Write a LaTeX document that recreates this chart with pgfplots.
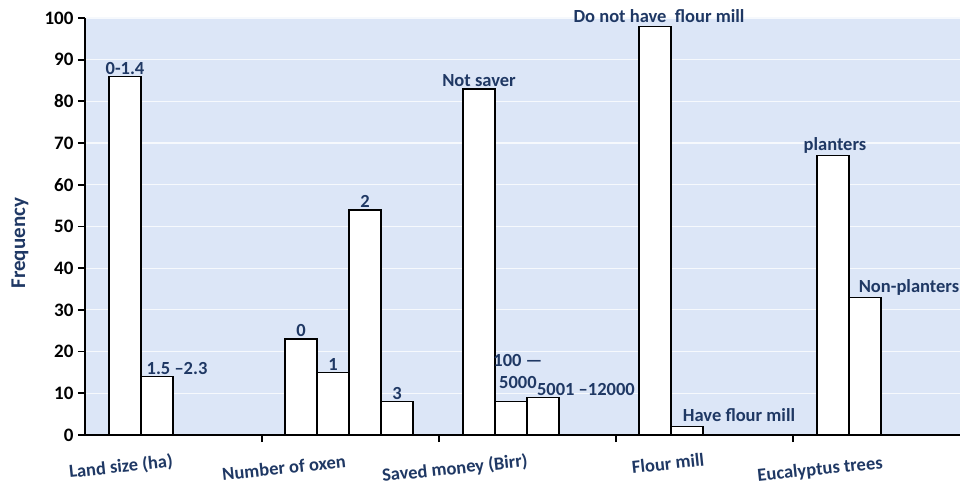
\documentclass[border=0pt]{standalone}
\usepackage{pgfplots}
\pgfplotsset{compat=1.18}
\usepackage{fontspec}
\setmainfont{Carlito}
\definecolor{navy}{HTML}{1F3864}
\definecolor{bgblue}{HTML}{DCE6F7}
\newcommand{\lab}{\fontsize{18.5}{22}\selectfont\bfseries}

\begin{document}
\begin{tikzpicture}
\begin{axis}[
  scale only axis, width=875pt, height=417pt,
  xmin=0, xmax=4.9435, ymin=0, ymax=100,
  axis lines=left,
  axis line style={black, line width=2pt, -},
  axis background/.style={fill=bgblue},
  ymajorgrids, grid style={white!75!bgblue, line width=1.2pt},
  xtick={1,2,3,4}, xticklabels={},
  ytick={0,10,...,100},
  tick align=outside, major tick length=7pt,
  tick style={black, line width=1.8pt},
  /pgf/number format/assume math mode=true,
  yticklabel style={font=\fontsize{19}{22}\selectfont\bfseries, xshift=-1pt},
  clip=false,
]
\addplot[ybar, bar width=0.1808, fill=white, draw=black, line width=1.5pt] coordinates {
  (0.226,86) (0.4068,14)
  (1.220,23) (1.4008,15) (1.5816,54) (1.7624,8)
  (2.226,83) (2.4068,8) (2.5876,9)
  (3.220,98) (3.4008,2)
  (4.226,67) (4.4068,33)
};

% bar labels
\begin{scope}[every node/.style={font=\lab, text=navy, anchor=south, inner sep=2pt}]
\node at (axis cs:0.226,86) {0-1.4};
\node at (axis cs:0.52,14) {1.5 --2.3};
\node at (axis cs:1.220,23) {0};
\node at (axis cs:1.4008,15) {1};
\node at (axis cs:1.5816,54) {2};
\node at (axis cs:1.7624,8) {3};
\node at (axis cs:2.226,83) {Not saver};
\node[align=center] at (axis cs:2.446,10.5) {100 ---\\5000};
\node at (axis cs:2.830,8.9) {5001 --12000};
\node at (axis cs:3.243,98.4) {Do not have\ \ flour mill};
\node at (axis cs:3.695,2.6) {Have flour mill};
\node at (axis cs:4.237,67) {planters};
\node at (axis cs:4.655,33) {Non-planters};
\end{scope}

% category labels
\begin{scope}[every node/.style={font=\lab, text=navy, rotate=6, inner sep=0pt}]
\node at (axis cs:0.203,-7.7) {Land size (ha)};
\node at (axis cs:1.124,-7.9) {Number of oxen};
\node at (axis cs:2.090,-8.1) {Saved money (Birr)};
\node at (axis cs:3.294,-6.8) {Flour mill};
\node at (axis cs:4.153,-8.4) {Eucalyptus trees};
\end{scope}

\node[font=\fontsize{21}{24}\selectfont\bfseries, text=navy, rotate=90] at (axis cs:-0.367,46) {Frequency};

\coordinate (bl) at (rel axis cs:0,0);
\coordinate (tr) at (rel axis cs:1,1);
\end{axis}
\pgfresetboundingbox
\path ([shift={(-85pt,-55pt)}]bl) rectangle ([shift={(0pt,18pt)}]tr);
\end{tikzpicture}
\end{document}
